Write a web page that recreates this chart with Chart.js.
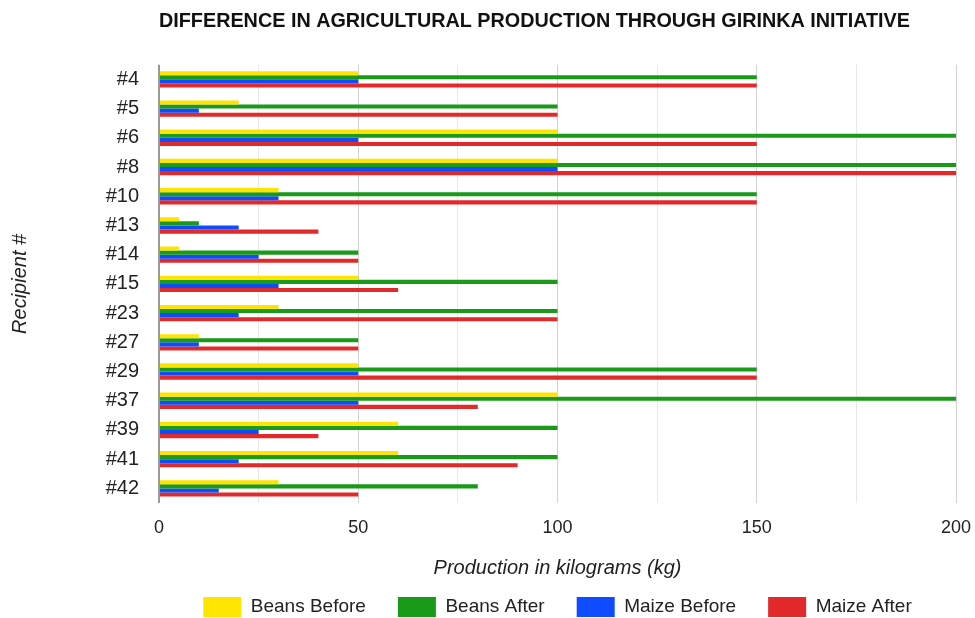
<!DOCTYPE html>
<html>
<head>
<meta charset="utf-8">
<script src="https://cdn.jsdelivr.net/npm/chart.js@4.4.0/dist/chart.umd.min.js"></script>
<style>
  html, body { margin: 0; padding: 0; background: #fff; }
  #wrap { width: 975px; height: 618px; }
</style>
</head>
<body>
<div id="wrap"><canvas id="chart"></canvas></div>
<script>
var recipients = ['#4', '#5', '#6', '#8', '#10', '#13', '#14', '#15', '#23', '#27', '#29', '#37', '#39', '#41', '#42'];
var beansBefore = [50, 20, 100, 100, 30, 5, 5, 50, 30, 10, 50, 100, 60, 60, 30];
var beansAfter  = [150, 100, 200, 200, 150, 10, 50, 100, 100, 50, 150, 200, 100, 100, 80];
var maizeBefore = [50, 10, 50, 100, 30, 20, 25, 30, 20, 10, 50, 50, 25, 20, 15];
var maizeAfter  = [150, 100, 150, 200, 150, 40, 50, 60, 100, 50, 150, 80, 40, 90, 50];
var xTicks = [0, 50, 100, 150, 200];

var font = 'Liberation Sans, Arial, sans-serif';

new Chart(document.getElementById('chart'), {
  type: 'bar',
  data: {
    labels: recipients,
    datasets: [
      { label: 'Beans Before', data: beansBefore, backgroundColor: '#ffe400' },
      { label: 'Beans After',  data: beansAfter,  backgroundColor: '#199a19' },
      { label: 'Maize Before', data: maizeBefore, backgroundColor: '#0f4bff' },
      { label: 'Maize After',  data: maizeAfter,  backgroundColor: '#e22a2a' }
    ]
  },
  options: {
    indexAxis: 'y',
    responsive: true,
    maintainAspectRatio: false,
    animation: false,
    devicePixelRatio: 1,
    layout: { padding: { left: 0, right: 19, top: 0, bottom: -9 } },
    datasets: { bar: { categoryPercentage: 0.56, barPercentage: 1 } },
    plugins: {
      title: {
        display: true,
        fullSize: false,
        align: 'start',
        text: 'DIFFERENCE IN AGRICULTURAL PRODUCTION THROUGH GIRINKA INITIATIVE',
        color: '#111',
        font: { family: font, size: 19.8, weight: 'bold' },
        padding: { top: 10, bottom: 31 }
      },
      legend: {
        position: 'bottom',
        fullSize: false,
        labels: {
          color: '#222',
          font: { family: font, size: 19 },
          boxWidth: 38,
          boxHeight: 20,
          padding: 32
        }
      },
      tooltip: { enabled: false }
    },
    scales: {
      x: {
        min: 0,
        max: 200,
        afterBuildTicks: function (s) {
          s.ticks = [0, 25, 50, 75, 100, 125, 150, 175, 200].map(function (v) { return { value: v }; });
        },
        afterFit: function (s) { s.height = 62; s.paddingLeft = 0; s.paddingRight = 0; },
        ticks: {
          color: '#222',
          font: { family: font, size: 18 },
          padding: 14,
          callback: function (v) { return xTicks.indexOf(v) >= 0 ? v : ''; }
        },
        grid: {
          color: function (c) {
            if (c.tick && c.tick.value === 0) return '#999';
            return c.tick && c.tick.value % 50 === 0 ? '#d2d2d2' : '#e8e8e8';
          },
          lineWidth: function (c) { return c.tick && c.tick.value === 0 ? 2 : 1; },
          drawTicks: false
        },
        border: { display: false },
        title: {
          display: true,
          text: 'Production in kilograms (kg)',
          color: '#222',
          font: { family: font, size: 20, style: 'italic' },
          padding: { top: 0, bottom: -15 }
        }
      },
      y: {
        afterFit: function (s) { s.width = 159; },
        ticks: {
          color: '#222',
          font: { family: font, size: 20 },
          padding: 20
        },
        grid: { display: false, drawTicks: false },
        border: { display: false },
        title: {
          display: true,
          text: 'Recipient #',
          color: '#222',
          font: { family: font, size: 20, style: 'italic' },
          padding: { top: 8, bottom: 0 }
        }
      }
    }
  }
});
</script>
</body>
</html>
